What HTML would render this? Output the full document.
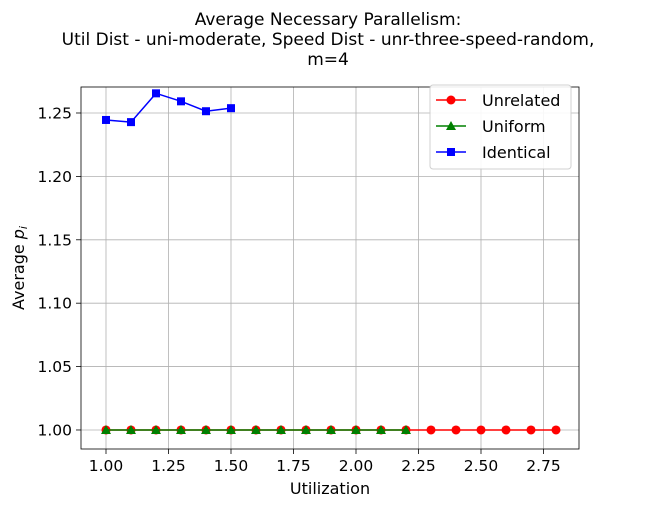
<!DOCTYPE html>
<html><head><meta charset="utf-8"><style>
body{margin:0;background:#fff;font-family:"Liberation Sans","DejaVu Sans",sans-serif}
svg text{font-family:"DejaVu Sans","Liberation Sans",sans-serif}
</style></head><body>
<svg id="chart" width="655" height="508"></svg>
<script>
const xTicks=[1.00,1.25,1.50,1.75,2.00,2.25,2.50,2.75];
const xTickLabels=["1.00","1.25","1.50","1.75","2.00","2.25","2.50","2.75"];
const yTicks=[1.00,1.05,1.10,1.15,1.20,1.25];
const yTickLabels=["1.00","1.05","1.10","1.15","1.20","1.25"];
const unrelatedX=[1.0,1.1,1.2,1.3,1.4,1.5,1.6,1.7,1.8,1.9,2.0,2.1,2.2,2.3,2.4,2.5,2.6,2.7,2.8];
const unrelatedY=[1,1,1,1,1,1,1,1,1,1,1,1,1,1,1,1,1,1,1];
const uniformX=[1.0,1.1,1.2,1.3,1.4,1.5,1.6,1.7,1.8,1.9,2.0,2.1,2.2];
const uniformY=[1,1,1,1,1,1,1,1,1,1,1,1,1];
const identicalX=[1.0,1.1,1.2,1.3,1.4,1.5];
const identicalY=[1.2445,1.2428,1.2655,1.2592,1.2514,1.2538];

const L=81,R=579,T=87,B=449;
const xMin=0.9,xMax=2.892,yMin=0.985,yMax=1.2705;
const sx=v=>L+(v-xMin)/(xMax-xMin)*(R-L);
const sy=v=>B-(v-yMin)/(yMax-yMin)*(B-T);
const svg=document.getElementById('chart');
const NS='http://www.w3.org/2000/svg';
function mk(tag,attrs,parent){const e=document.createElementNS(NS,tag);for(const k in attrs)e.setAttribute(k,attrs[k]);(parent||svg).appendChild(e);return e;}

const title=mk('text',{x:328,y:25,'text-anchor':'middle','font-size':17,fill:'#000'});


["Average Necessary Parallelism:","Util Dist - uni-moderate, Speed Dist - unr-three-speed-random,","m=4"].forEach((t,i)=>{const s=mk('tspan',{x:328,dy:i?20:0},title);s.textContent=t;});

xTicks.forEach((v,i)=>{
  const x=sx(v);
  const g=mk('line',{x1:x,x2:x,y1:T,y2:B,stroke:'#b0b0b0','stroke-width':0.8});
  
  
  mk('line',{x1:x,x2:x,y1:B,y2:B+5,stroke:'#000','stroke-width':0.8});
  const t=mk('text',{x:x,y:B+22,'text-anchor':'middle','font-size':15.5});
  t.textContent=xTickLabels[i];
  
  
});
yTicks.forEach((v,i)=>{
  const y=sy(v);
  const g=mk('line',{x1:L,x2:R,y1:y,y2:y,stroke:'#b0b0b0','stroke-width':0.8});
  
  
  mk('line',{x1:L-5,x2:L,y1:y,y2:y,stroke:'#000','stroke-width':0.8});
  const t=mk('text',{x:L-9,y:y+5.5,'text-anchor':'end','font-size':15.5});
  t.textContent=yTickLabels[i];
  
  
});
const frame=mk('rect',{x:L,y:T,width:R-L,height:B-T,fill:'none',stroke:'#000','stroke-width':0.8});



const xl=mk('text',{x:(L+R)/2,y:494,'text-anchor':'middle','font-size':16});
xl.textContent='Utilization';


const yl=mk('text',{x:0,y:0,'text-anchor':'middle','font-size':16,transform:`translate(24,${(T+B)/2}) rotate(-90)`});
yl.innerHTML='Average <tspan font-style="italic">p</tspan><tspan font-style="italic" font-size="11" dy="3">i</tspan>';



function marker(type,x,y,color,parent){
  if(type==='o')return mk('circle',{cx:x,cy:y,r:4.5,fill:color},parent);
  if(type==='^')return mk('polygon',{points:`${x},${y-5} ${x-5},${y+4} ${x+5},${y+4}`,fill:color},parent);
  return mk('rect',{x:x-4,y:y-4,width:8,height:8,fill:color},parent);
}
function series(xs,ys,color,type,name){
  const g=mk('g',{});
  
  
  mk('polyline',{points:xs.map((v,i)=>sx(v)+','+sy(ys[i])).join(' '),fill:'none',stroke:color,'stroke-width':1.5},g);
  xs.forEach((v,i)=>{const m=marker(type,sx(v),sy(ys[i]),color,g);
    
    });
}
series(unrelatedX,unrelatedY,'#ff0000','o','unrelated');
series(uniformX,uniformY,'#008000','^','uniform');
series(identicalX,identicalY,'#0000ff','s','identical');

const lg=mk('g',{});


mk('rect',{x:430,y:85,width:141,height:84,rx:3,fill:'#fff',stroke:'#ccc','stroke-width':1,opacity:0.9},lg);
[['Unrelated','#ff0000','o'],['Uniform','#008000','^'],['Identical','#0000ff','s']].forEach((e,i)=>{
  const y=100+i*26;
  const eg=mk('g',{},lg);
  
  
  mk('line',{x1:436,x2:466,y1:y,y2:y,stroke:e[1],'stroke-width':1.5},eg);
  marker(e[2],451,y,e[1],eg);
  const t=mk('text',{x:482,y:y+6,'font-size':16},eg);t.textContent=e[0];
});
</script>
</body></html>
